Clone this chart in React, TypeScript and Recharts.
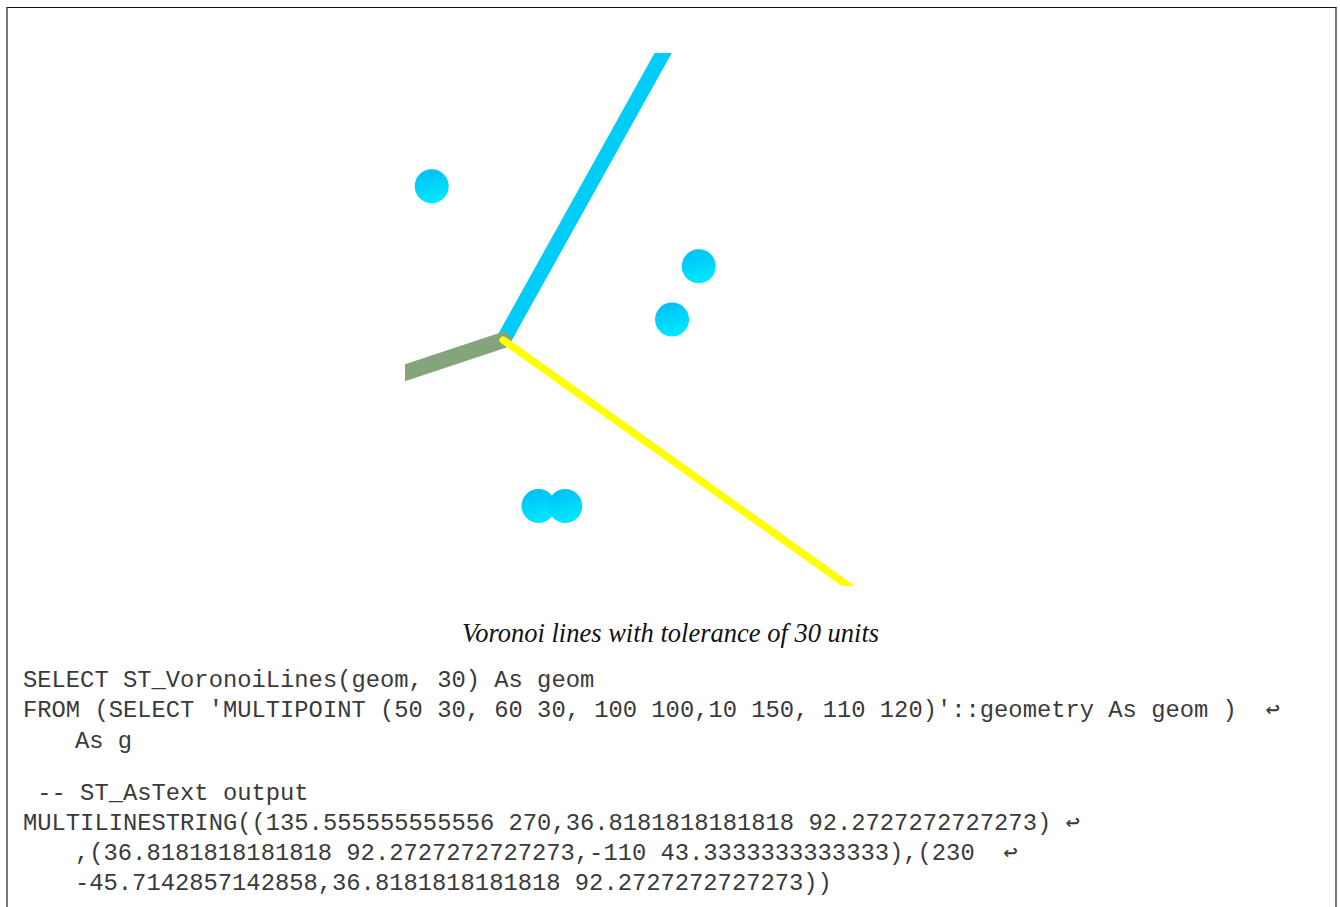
import React from 'react';
import { ScatterChart, Scatter, XAxis, YAxis } from 'recharts';

// Input points of the MULTIPOINT
const inputPoints = [
  { x: 50, y: 30 },
  { x: 60, y: 30 },
  { x: 100, y: 100 },
  { x: 10, y: 150 },
  { x: 110, y: 120 },
];

// Voronoi line segments (from ST_AsText output)
const lineA = [
  { x: 135.555555555556, y: 270 },
  { x: 36.8181818181818, y: 92.2727272727273 },
];
const lineB = [
  { x: 36.8181818181818, y: 92.2727272727273 },
  { x: -110, y: 43.3333333333333 },
];
const lineC = [
  { x: 230, y: -45.7142857142858 },
  { x: 36.8181818181818, y: 92.2727272727273 },
];

const xDomain = [0, 170];
const yDomain = [0, 200];

const caption = 'Voronoi lines with tolerance of 30 units';

const codeGroup1 = [
  { text: 'SELECT ST_VoronoiLines(geom, 30) As geom', indent: false },
  { text: "FROM (SELECT 'MULTIPOINT (50 30, 60 30, 100 100,10 150, 110 120)'::geometry As geom )  \u21A9", indent: false },
  { text: 'As g', indent: true },
];
const codeGroup2 = [
  { text: ' -- ST_AsText output', indent: false },
  { text: 'MULTILINESTRING((135.555555555556 270,36.8181818181818 92.2727272727273) \u21A9', indent: false },
  { text: ',(36.8181818181818 92.2727272727273,-110 43.3333333333333),(230  \u21A9', indent: true },
  { text: '-45.7142857142858,36.8181818181818 92.2727272727273))', indent: true },
];

const noShape = () => <g />;
const pointShape = (props: any) => (
  <circle cx={props.cx} cy={props.cy} r={17} fill="url(#ptGrad)" />
);

const monoStyle: React.CSSProperties = {
  position: 'absolute',
  fontFamily: '"Liberation Mono", "Courier New", monospace',
  fontSize: '23.8px',
  lineHeight: '30px',
  whiteSpace: 'pre',
  color: '#3a3a3a',
};

export default function App() {
  return (
    <div style={{ position: 'absolute', left: 0, top: 0, width: 1340, height: 907, background: '#fff', overflow: 'hidden' }}>
      <svg width={0} height={0} style={{ position: 'absolute' }}>
        <defs>
          <linearGradient id="ptGrad" x1="0" y1="0" x2="0.3" y2="1">
            <stop offset="0%" stopColor="#00bcf6" />
            <stop offset="100%" stopColor="#00e6ff" />
          </linearGradient>
        </defs>
      </svg>
      <div
        style={{
          position: 'absolute',
          left: 6,
          top: 7,
          width: 1327,
          height: 960,
          borderTop: '1px solid #111',
          borderLeft: '2px solid #777',
          borderRight: '2px solid #777',
        }}
      />
      <div style={{ position: 'absolute', left: 0, top: 0 }}>
        <ScatterChart width={1340} height={600} margin={{ top: 53, left: 405, right: 481, bottom: 14 }}>
          <XAxis type="number" dataKey="x" domain={xDomain} allowDataOverflow hide />
          <YAxis type="number" dataKey="y" domain={yDomain} allowDataOverflow hide />
          <Scatter
            data={lineA}
            fill="#00ccf8"
            line={{ stroke: '#00ccf8', strokeWidth: 15, strokeLinecap: 'round' }}
            lineType="joint"
            shape={noShape}
            isAnimationActive={false}
          />
          <Scatter
            data={lineB}
            fill="#84a57c"
            line={{ stroke: '#84a57c', strokeWidth: 16, strokeLinecap: 'round' }}
            lineType="joint"
            shape={noShape}
            isAnimationActive={false}
          />
          <Scatter
            data={lineC}
            fill="#ffff00"
            line={{ stroke: '#ffff00', strokeWidth: 7.5, strokeLinecap: 'round' }}
            lineType="joint"
            shape={noShape}
            isAnimationActive={false}
          />
          <Scatter data={inputPoints} fill="#00ccf8" shape={pointShape} isAnimationActive={false} />
        </ScatterChart>
      </div>
      <div
        style={{
          position: 'absolute',
          left: 6,
          width: 1329,
          top: 618,
          height: 30,
          lineHeight: '30px',
          textAlign: 'center',
          fontFamily: '"Liberation Serif", "Times New Roman", serif',
          fontStyle: 'italic',
          fontSize: '26.5px',
          color: '#111',
          whiteSpace: 'pre',
        }}
      >
        {caption}
      </div>
      {codeGroup1.map((l, i) => (
        <div key={'a' + i} style={{ ...monoStyle, left: l.indent ? 75 : 23, top: 666 + i * 30.3 }}>
          {l.text}
        </div>
      ))}
      {codeGroup2.map((l, i) => (
        <div key={'b' + i} style={{ ...monoStyle, left: l.indent ? 75 : 23, top: 778.5 + i * 30.3 }}>
          {l.text}
        </div>
      ))}
    </div>
  );
}
